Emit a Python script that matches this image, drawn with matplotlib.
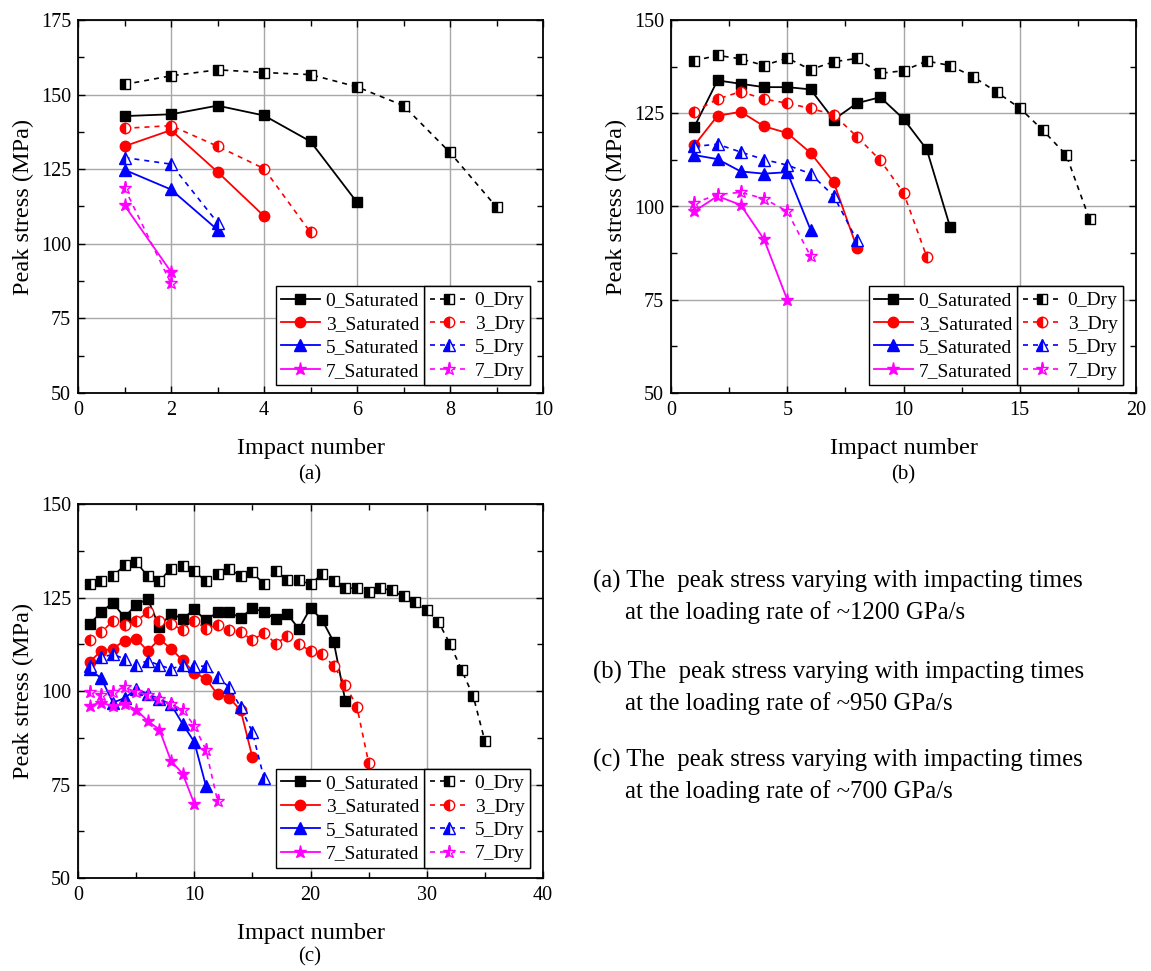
import matplotlib
matplotlib.use("Agg")
import matplotlib.pyplot as plt
from matplotlib.ticker import MultipleLocator
import numpy as np

plt.rcParams['font.family'] = ['Liberation Serif', 'DejaVu Serif']

groups = ["0", "3", "5", "7"]
colors = ["black", "red", "blue", "magenta"]
markers = ["s", "o", "^", "*"]

# (a) ~1200 GPa/s
a_sat = {
    "0": [142.8, 143.4, 146.3, 143.0, 134.3, 113.9],
    "3": [132.7, 138.1, 124.1, 109.3],
    "5": [124.8, 118.2, 104.7],
    "7": [112.9, 90.6],
}
a_dry = {
    "0": [153.4, 156.3, 158.3, 157.4, 156.7, 152.6, 146.3, 130.6, 112.3],
    "3": [138.7, 139.6, 132.7, 125.2, 103.8],
    "5": [128.9, 126.7, 107.1],
    "7": [118.7, 86.7],
}

# (b) ~950 GPa/s
b_sat = {
    "0": [121.3, 133.8, 132.9, 132.0, 132.0, 131.4, 123.3, 127.7, 129.3, 123.5, 115.3, 94.6],
    "3": [116.4, 124.3, 125.4, 121.5, 119.7, 114.4, 106.5, 88.9],
    "5": [113.8, 112.7, 109.4, 108.8, 109.2, 93.8],
    "7": [98.7, 102.8, 100.4, 91.2, 75.0],
}
b_dry = {
    "0": [139.1, 140.5, 139.6, 137.8, 139.8, 136.7, 138.8, 139.7, 135.7, 136.4,
          139.0, 137.8, 134.8, 130.7, 126.4, 120.4, 113.8, 96.6],
    "3": [125.4, 128.8, 130.8, 128.8, 127.7, 126.3, 124.6, 118.7, 112.4, 103.7, 86.5],
    "5": [116.1, 116.7, 114.6, 112.6, 111.1, 108.8, 102.8, 90.9],
    "7": [100.9, 103.2, 103.8, 102.1, 98.7, 86.7],
}

# (c) ~700 GPa/s
c_sat = {
    "0": [117.9, 121.1, 123.6, 119.7, 123.1, 124.6, 117.1, 120.7, 119.3, 121.8,
          118.9, 121.1, 121.0, 119.6, 122.1, 121.2, 119.2, 120.6, 116.6, 122.2,
          119.0, 113.1, 97.3],
    "3": [107.8, 110.7, 111.3, 113.5, 114.0, 110.7, 113.9, 111.3, 108.2, 104.9,
          103.3, 99.1, 98.2, 94.8, 82.3],
    "5": [105.8, 103.4, 96.9, 98.1, 100.5, 99.2, 97.9, 96.4, 91.2, 86.4, 74.7],
    "7": [96.1, 96.9, 95.9, 96.5, 95.0, 92.0, 89.7, 81.3, 77.9, 69.9],
}
c_dry = {
    "0": [128.5, 129.4, 130.7, 133.6, 134.5, 130.7, 129.5, 132.7, 133.5, 132.0,
          129.4, 131.2, 132.7, 130.7, 131.7, 128.6, 132.2, 129.6, 129.6, 128.6,
          131.3, 129.3, 127.5, 127.5, 126.6, 127.5, 126.9, 125.3, 123.7, 121.6,
          118.5, 112.6, 105.6, 98.6, 86.6],
    "3": [113.6, 115.7, 118.7, 117.7, 118.8, 121.0, 118.7, 117.8, 116.4, 118.7,
          116.7, 117.6, 116.4, 115.8, 113.6, 115.6, 112.7, 114.6, 112.7, 110.6,
          109.8, 106.7, 101.7, 95.7, 80.8],
    "5": [106.7, 109.0, 109.8, 108.6, 106.9, 108.1, 106.9, 105.9, 106.9, 106.7,
          106.6, 103.8, 101.0, 95.6, 89.0, 76.7],
    "7": [99.8, 99.0, 99.8, 101.0, 99.7, 98.8, 97.8, 96.5, 95.0, 90.7, 84.3, 70.7],
}

captions = [
    ("(a) The  peak stress varying with impacting times", "at the loading rate of ~1200 GPa/s"),
    ("(b) The  peak stress varying with impacting times", "at the loading rate of ~950 GPa/s"),
    ("(c) The  peak stress varying with impacting times", "at the loading rate of ~700 GPa/s"),
]

W, H = 1151, 971
fig = plt.figure(figsize=(W / 100, H / 100), dpi=100)


def make_axes(x0, y_top, y_bot, x1):
    return fig.add_axes([x0 / W, 1 - y_bot / H, (x1 - x0) / W, (y_bot - y_top) / H])


def draw_panel(ax, sat, dry, xmax, xmaj, ymax, leg_bottom):
    ax.grid(True, color="#a8a8a8", linewidth=1.0, zorder=0)
    ax.set_axisbelow(True)
    for i, g in enumerate(groups):
        ms = {"s": 7, "o": 7.5, "^": 8, "*": 9.5}[markers[i]]
        xs = np.arange(1, len(sat[g]) + 1)
        ax.plot(xs, sat[g], color=colors[i], marker=markers[i], ms=ms, lw=1.3,
                mec=colors[i], mfc=colors[i], label=g + "_Saturated", zorder=3)
        xd = np.arange(1, len(dry[g]) + 1)
        ax.plot(xd, dry[g], color=colors[i], marker=markers[i], ms=ms, lw=1.2,
                ls=(0, (3, 3)), mec=colors[i], mfc=colors[i], fillstyle="left",
                mfcalt="white", mew=1.0, label=g + "_Dry", zorder=3)
    ax.set_xlim(0, xmax)
    ax.set_ylim(50, ymax)
    ax.xaxis.set_major_locator(MultipleLocator(xmaj))
    ax.xaxis.set_minor_locator(MultipleLocator(xmaj / 2))
    ax.yaxis.set_major_locator(MultipleLocator(25))
    ax.yaxis.set_minor_locator(MultipleLocator(12.5))
    ax.tick_params(which="both", direction="in", top=True, right=True, labelsize=14.5)
    ax.tick_params(which="major", length=5, width=1.0)
    ax.tick_params(which="minor", length=4, width=1.0)
    ax.tick_params(axis="x", pad=6)
    ax.tick_params(axis="y", pad=5)
    for s in ax.spines.values():
        s.set_linewidth(1.3)
    ax.set_xlabel("Impact number", fontsize=17.5, labelpad=13)
    ax.set_ylabel("Peak stress (MPa)", fontsize=17.5, labelpad=5)

    # two boxed legend columns side by side
    h, l = ax.get_legend_handles_labels()
    sat_h, dry_h = h[0::2], h[1::2]
    sat_l, dry_l = l[0::2], l[1::2]
    kw = dict(fontsize=14, frameon=True, fancybox=False, edgecolor="black",
              framealpha=1, borderaxespad=0, handlelength=2.0, handletextpad=0.3,
              labelspacing=0.3, borderpad=0.28)
    leg2 = ax.legend(dry_h, dry_l, loc="lower right",
                     bbox_to_anchor=(0.972, leg_bottom), **kw)
    leg2.get_frame().set_linewidth(1.0)
    ax.add_artist(leg2)
    fig.canvas.draw()
    bb = leg2.get_window_extent().transformed(ax.transAxes.inverted())
    leg1 = ax.legend(sat_h, sat_l, loc="lower right",
                     bbox_to_anchor=(bb.x0, leg_bottom), **kw)
    leg1.get_frame().set_linewidth(1.0)
    ax.add_artist(leg2)


ax_a = make_axes(78, 20, 393, 543)
draw_panel(ax_a, a_sat, a_dry, 10, 2, 175, 0.021)
ax_b = make_axes(671, 20, 393, 1136)
draw_panel(ax_b, b_sat, b_dry, 20, 5, 150, 0.021)
ax_c = make_axes(78, 504, 878, 543)
draw_panel(ax_c, c_sat, c_dry, 40, 10, 150, 0.027)

fig.text(310 / W, 1 - 475 / H, "(a)", ha="center", va="center", fontsize=15)
fig.text(903 / W, 1 - 475 / H, "(b)", ha="center", va="center", fontsize=15)
fig.text(310 / W, 1 - 957 / H, "(c)", ha="center", va="center", fontsize=15)

ys = [581, 672, 760]
for (l1, l2), y in zip(captions, ys):
    fig.text(593 / W, 1 - y / H, l1, ha="left", va="center", fontsize=17.8)
    fig.text(625 / W, 1 - (y + 32) / H, l2, ha="left", va="center", fontsize=17.8)

fig.savefig("out.png", dpi=100)
